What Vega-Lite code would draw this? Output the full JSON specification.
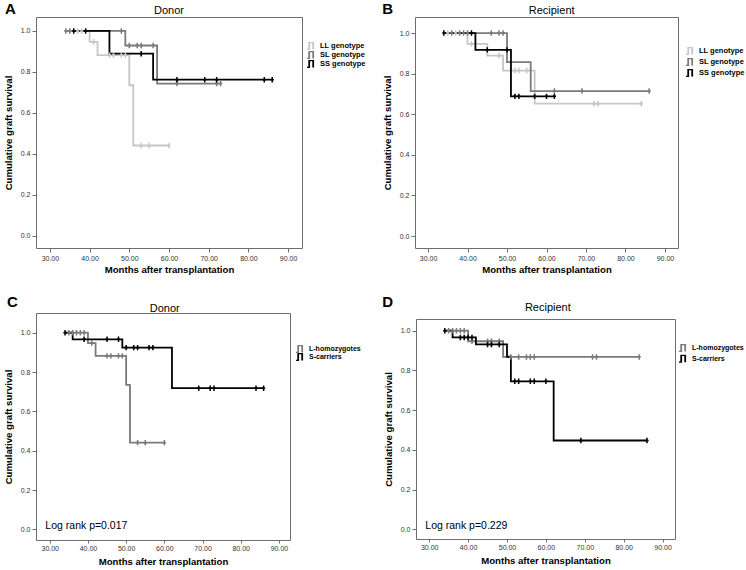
{
  "$schema": "https://vega.github.io/schema/vega-lite/v6.json",
  "padding": {"left": 2, "top": 1, "right": 0, "bottom": 0},
  "background": "white",
  "config": {
    "font": "Liberation Sans",
    "view": {"stroke": "#6e6e6e", "strokeWidth": 1},
    "axis": {"grid": false, "domain": false, "tickColor": "#6e6e6e", "tickSize": 4, "labelFontSize": 7, "labelColor": "#333333", "labelPadding": 2, "titleFontSize": 9.6, "titleFontWeight": "bold", "titleColor": "#000000"},
    "axisX": {"titlePadding": 3},
    "axisY": {"titlePadding": 7},
    "legend": {"title": null, "orient": "none", "labelFontSize": 7.5, "labelFontWeight": "bold", "labelColor": "#000000", "padding": 0, "labelOffset": 4, "symbolStrokeWidth": 1.8, "symbolSize": 64, "clipHeight": 8, "symbolType": "M-1,0.9H-0.45V-0.9H0.55V0.9"}
  },
  "columns": 2,
  "align": "none",
  "spacing": {"row": 19, "column": 14},
  "resolve": {"scale": {"color": "independent"}, "legend": {"color": "independent"}},
  "concat": [
        {
          "width": 266, "height": 231,
          "data": {"values": [
            {"g": "LL genotype", "k": "curve", "t": 37, "s": 1},
            {"g": "LL genotype", "k": "curve", "t": 40, "s": 0.947},
            {"g": "LL genotype", "k": "curve", "t": 42, "s": 0.882},
            {"g": "LL genotype", "k": "curve", "t": 50, "s": 0.735},
            {"g": "LL genotype", "k": "curve", "t": 51, "s": 0.441},
            {"g": "LL genotype", "k": "curve", "t": 60, "s": 0.441},
            {"g": "LL genotype", "k": "censor", "t": 37, "s": 1},
            {"g": "LL genotype", "k": "censor", "t": 38, "s": 1},
            {"g": "LL genotype", "k": "censor", "t": 41, "s": 0.947},
            {"g": "LL genotype", "k": "censor", "t": 45, "s": 0.882},
            {"g": "LL genotype", "k": "censor", "t": 46, "s": 0.882},
            {"g": "LL genotype", "k": "censor", "t": 48, "s": 0.882},
            {"g": "LL genotype", "k": "censor", "t": 49, "s": 0.882},
            {"g": "LL genotype", "k": "censor", "t": 53, "s": 0.441},
            {"g": "LL genotype", "k": "censor", "t": 55, "s": 0.441},
            {"g": "LL genotype", "k": "censor", "t": 60, "s": 0.441},
            {"g": "SL genotype", "k": "curve", "t": 34, "s": 1},
            {"g": "SL genotype", "k": "curve", "t": 49, "s": 0.929},
            {"g": "SL genotype", "k": "curve", "t": 57, "s": 0.743},
            {"g": "SL genotype", "k": "curve", "t": 73, "s": 0.743},
            {"g": "SL genotype", "k": "censor", "t": 34, "s": 1},
            {"g": "SL genotype", "k": "censor", "t": 35, "s": 1},
            {"g": "SL genotype", "k": "censor", "t": 48, "s": 1},
            {"g": "SL genotype", "k": "censor", "t": 50, "s": 0.929},
            {"g": "SL genotype", "k": "censor", "t": 52, "s": 0.929},
            {"g": "SL genotype", "k": "censor", "t": 53, "s": 0.929},
            {"g": "SL genotype", "k": "censor", "t": 56, "s": 0.929},
            {"g": "SL genotype", "k": "censor", "t": 62, "s": 0.743},
            {"g": "SL genotype", "k": "censor", "t": 72, "s": 0.743},
            {"g": "SL genotype", "k": "censor", "t": 73, "s": 0.743},
            {"g": "SS genotype", "k": "curve", "t": 36, "s": 1},
            {"g": "SS genotype", "k": "curve", "t": 45, "s": 0.889},
            {"g": "SS genotype", "k": "curve", "t": 56, "s": 0.762},
            {"g": "SS genotype", "k": "curve", "t": 86, "s": 0.762},
            {"g": "SS genotype", "k": "censor", "t": 36, "s": 1},
            {"g": "SS genotype", "k": "censor", "t": 39, "s": 1},
            {"g": "SS genotype", "k": "censor", "t": 53, "s": 0.889},
            {"g": "SS genotype", "k": "censor", "t": 62, "s": 0.762},
            {"g": "SS genotype", "k": "censor", "t": 69, "s": 0.762},
            {"g": "SS genotype", "k": "censor", "t": 72, "s": 0.762},
            {"g": "SS genotype", "k": "censor", "t": 84, "s": 0.762},
            {"g": "SS genotype", "k": "censor", "t": 86, "s": 0.762}
          ]},
          "layer": [
            {"transform": [{"filter": "datum.k === 'curve'"}], "mark": {"type": "line", "interpolate": "step-after", "strokeWidth": 1.8},
             "encoding": {
              "x": {"field": "t", "type": "quantitative", "scale": {"domain": [26.5, 93.5], "nice": false, "zero": false}, "axis": {"values": [30, 40, 50, 60, 70, 80, 90], "format": ".2f", "title": "Months after transplantation"}},
              "y": {"field": "s", "type": "quantitative", "scale": {"domain": [-0.059, 1.068], "nice": false, "zero": false}, "axis": {"values": [0, 0.2, 0.4, 0.6, 0.8, 1.0], "format": ".1f", "title": "Cumulative graft survival"}},
              "color": {"field": "g", "type": "nominal", "scale": {"domain": ["LL genotype", "SL genotype", "SS genotype"], "range": ["#c6c6c6", "#7a7a7a", "#000000"]}, "legend": {"legendX": 270, "legendY": 25, "rowPadding": 1}}
             }},
            {"transform": [{"filter": "datum.k === 'censor'"}], "mark": {"type": "point", "shape": "M0,-1V1M-0.6,0H0.6", "filled": false, "size": 30, "strokeWidth": 1.5, "opacity": 1},
             "encoding": {
              "x": {"field": "t", "type": "quantitative"},
              "y": {"field": "s", "type": "quantitative"},
              "color": {"field": "g", "type": "nominal"}
             }},
            {"data": {"values": [{"label": "A"}]}, "mark": {"type": "text", "align": "left", "baseline": "alphabetic", "fontSize": 15, "fontWeight": "bold", "clip": false, "fill": "#000000"},
             "encoding": {"x": {"datum": 18.7, "type": "quantitative"}, "y": {"datum": 1.083, "type": "quantitative"}, "text": {"field": "label", "type": "nominal"}}},
            {"data": {"values": [{"label": "Donor"}]}, "mark": {"type": "text", "align": "center", "baseline": "alphabetic", "fontSize": 11, "clip": false, "fill": "#000000"},
             "encoding": {"x": {"datum": 60, "type": "quantitative"}, "y": {"datum": 1.083, "type": "quantitative"}, "text": {"field": "label", "type": "nominal"}}}
          ]
        },
        {
          "width": 263, "height": 231,
          "data": {"values": [
            {"g": "LL genotype", "k": "curve", "t": 35, "s": 1},
            {"g": "LL genotype", "k": "curve", "t": 40, "s": 0.947},
            {"g": "LL genotype", "k": "curve", "t": 45, "s": 0.889},
            {"g": "LL genotype", "k": "curve", "t": 49, "s": 0.815},
            {"g": "LL genotype", "k": "curve", "t": 57, "s": 0.652},
            {"g": "LL genotype", "k": "curve", "t": 84, "s": 0.652},
            {"g": "LL genotype", "k": "censor", "t": 35, "s": 1},
            {"g": "LL genotype", "k": "censor", "t": 37, "s": 1},
            {"g": "LL genotype", "k": "censor", "t": 41, "s": 0.947},
            {"g": "LL genotype", "k": "censor", "t": 48, "s": 0.889},
            {"g": "LL genotype", "k": "censor", "t": 52, "s": 0.815},
            {"g": "LL genotype", "k": "censor", "t": 53, "s": 0.815},
            {"g": "LL genotype", "k": "censor", "t": 55, "s": 0.815},
            {"g": "LL genotype", "k": "censor", "t": 72, "s": 0.652},
            {"g": "LL genotype", "k": "censor", "t": 73, "s": 0.652},
            {"g": "LL genotype", "k": "censor", "t": 84, "s": 0.652},
            {"g": "SL genotype", "k": "curve", "t": 36, "s": 1},
            {"g": "SL genotype", "k": "curve", "t": 50, "s": 0.857},
            {"g": "SL genotype", "k": "curve", "t": 56, "s": 0.714},
            {"g": "SL genotype", "k": "curve", "t": 86, "s": 0.714},
            {"g": "SL genotype", "k": "censor", "t": 36, "s": 1},
            {"g": "SL genotype", "k": "censor", "t": 38, "s": 1},
            {"g": "SL genotype", "k": "censor", "t": 39, "s": 1},
            {"g": "SL genotype", "k": "censor", "t": 40, "s": 1},
            {"g": "SL genotype", "k": "censor", "t": 46, "s": 1},
            {"g": "SL genotype", "k": "censor", "t": 48, "s": 1},
            {"g": "SL genotype", "k": "censor", "t": 49, "s": 1},
            {"g": "SL genotype", "k": "censor", "t": 62, "s": 0.714},
            {"g": "SL genotype", "k": "censor", "t": 69, "s": 0.714},
            {"g": "SL genotype", "k": "censor", "t": 86, "s": 0.714},
            {"g": "SS genotype", "k": "curve", "t": 34, "s": 1},
            {"g": "SS genotype", "k": "curve", "t": 42, "s": 0.917},
            {"g": "SS genotype", "k": "curve", "t": 51, "s": 0.688},
            {"g": "SS genotype", "k": "curve", "t": 62, "s": 0.688},
            {"g": "SS genotype", "k": "censor", "t": 34, "s": 1},
            {"g": "SS genotype", "k": "censor", "t": 41, "s": 1},
            {"g": "SS genotype", "k": "censor", "t": 45, "s": 0.917},
            {"g": "SS genotype", "k": "censor", "t": 50, "s": 0.917},
            {"g": "SS genotype", "k": "censor", "t": 52, "s": 0.688},
            {"g": "SS genotype", "k": "censor", "t": 53, "s": 0.688},
            {"g": "SS genotype", "k": "censor", "t": 57, "s": 0.688},
            {"g": "SS genotype", "k": "censor", "t": 60, "s": 0.688},
            {"g": "SS genotype", "k": "censor", "t": 62, "s": 0.688}
          ]},
          "layer": [
            {"transform": [{"filter": "datum.k === 'curve'"}], "mark": {"type": "line", "interpolate": "step-after", "strokeWidth": 1.8},
             "encoding": {
              "x": {"field": "t", "type": "quantitative", "scale": {"domain": [26.7, 93.3], "nice": false, "zero": false}, "axis": {"values": [30, 40, 50, 60, 70, 80, 90], "format": ".2f", "title": "Months after transplantation"}},
              "y": {"field": "s", "type": "quantitative", "scale": {"domain": [-0.059, 1.079], "nice": false, "zero": false}, "axis": {"values": [0, 0.2, 0.4, 0.6, 0.8, 1.0], "format": ".1f", "title": "Cumulative graft survival"}},
              "color": {"field": "g", "type": "nominal", "scale": {"domain": ["LL genotype", "SL genotype", "SS genotype"], "range": ["#c6c6c6", "#7a7a7a", "#000000"]}, "legend": {"legendX": 270, "legendY": 30, "rowPadding": 3}}
             }},
            {"transform": [{"filter": "datum.k === 'censor'"}], "mark": {"type": "point", "shape": "M0,-1V1M-0.6,0H0.6", "filled": false, "size": 30, "strokeWidth": 1.5, "opacity": 1},
             "encoding": {
              "x": {"field": "t", "type": "quantitative"},
              "y": {"field": "s", "type": "quantitative"},
              "color": {"field": "g", "type": "nominal"}
             }},
            {"data": {"values": [{"label": "B"}]}, "mark": {"type": "text", "align": "left", "baseline": "alphabetic", "fontSize": 15, "fontWeight": "bold", "clip": false, "fill": "#000000"},
             "encoding": {"x": {"datum": 18.4, "type": "quantitative"}, "y": {"datum": 1.092, "type": "quantitative"}, "text": {"field": "label", "type": "nominal"}}},
            {"data": {"values": [{"label": "Recipient"}]}, "mark": {"type": "text", "align": "center", "baseline": "alphabetic", "fontSize": 11, "clip": false, "fill": "#000000"},
             "encoding": {"x": {"datum": 61.3, "type": "quantitative"}, "y": {"datum": 1.092, "type": "quantitative"}, "text": {"field": "label", "type": "nominal"}}}
          ]
        },
        {
          "width": 254, "height": 227,
          "data": {"values": [
            {"g": "L-homozygotes", "k": "curve", "t": 34, "s": 1},
            {"g": "L-homozygotes", "k": "curve", "t": 40, "s": 0.947},
            {"g": "L-homozygotes", "k": "curve", "t": 42, "s": 0.882},
            {"g": "L-homozygotes", "k": "curve", "t": 50, "s": 0.735},
            {"g": "L-homozygotes", "k": "curve", "t": 51, "s": 0.441},
            {"g": "L-homozygotes", "k": "curve", "t": 60, "s": 0.441},
            {"g": "L-homozygotes", "k": "censor", "t": 35, "s": 1},
            {"g": "L-homozygotes", "k": "censor", "t": 36, "s": 1},
            {"g": "L-homozygotes", "k": "censor", "t": 37, "s": 1},
            {"g": "L-homozygotes", "k": "censor", "t": 38, "s": 1},
            {"g": "L-homozygotes", "k": "censor", "t": 39, "s": 1},
            {"g": "L-homozygotes", "k": "censor", "t": 41, "s": 0.947},
            {"g": "L-homozygotes", "k": "censor", "t": 45, "s": 0.882},
            {"g": "L-homozygotes", "k": "censor", "t": 46, "s": 0.882},
            {"g": "L-homozygotes", "k": "censor", "t": 48, "s": 0.882},
            {"g": "L-homozygotes", "k": "censor", "t": 49, "s": 0.882},
            {"g": "L-homozygotes", "k": "censor", "t": 53, "s": 0.441},
            {"g": "L-homozygotes", "k": "censor", "t": 55, "s": 0.441},
            {"g": "L-homozygotes", "k": "censor", "t": 60, "s": 0.441},
            {"g": "S-carriers", "k": "curve", "t": 34, "s": 1},
            {"g": "S-carriers", "k": "curve", "t": 36, "s": 0.966},
            {"g": "S-carriers", "k": "curve", "t": 49, "s": 0.924},
            {"g": "S-carriers", "k": "curve", "t": 62, "s": 0.718},
            {"g": "S-carriers", "k": "curve", "t": 86, "s": 0.718},
            {"g": "S-carriers", "k": "censor", "t": 34, "s": 1},
            {"g": "S-carriers", "k": "censor", "t": 39, "s": 0.966},
            {"g": "S-carriers", "k": "censor", "t": 45, "s": 0.966},
            {"g": "S-carriers", "k": "censor", "t": 48, "s": 0.966},
            {"g": "S-carriers", "k": "censor", "t": 50, "s": 0.924},
            {"g": "S-carriers", "k": "censor", "t": 52, "s": 0.924},
            {"g": "S-carriers", "k": "censor", "t": 53, "s": 0.924},
            {"g": "S-carriers", "k": "censor", "t": 56, "s": 0.924},
            {"g": "S-carriers", "k": "censor", "t": 57, "s": 0.924},
            {"g": "S-carriers", "k": "censor", "t": 69, "s": 0.718},
            {"g": "S-carriers", "k": "censor", "t": 72, "s": 0.718},
            {"g": "S-carriers", "k": "censor", "t": 73, "s": 0.718},
            {"g": "S-carriers", "k": "censor", "t": 84, "s": 0.718},
            {"g": "S-carriers", "k": "censor", "t": 86, "s": 0.718}
          ]},
          "layer": [
            {"transform": [{"filter": "datum.k === 'curve'"}], "mark": {"type": "line", "interpolate": "step-after", "strokeWidth": 1.8},
             "encoding": {
              "x": {"field": "t", "type": "quantitative", "scale": {"domain": [26.4, 92.9], "nice": false, "zero": false}, "axis": {"values": [30, 40, 50, 60, 70, 80, 90], "format": ".2f", "title": "Months after transplantation", "tickSize": 3, "labelPadding": 1, "titlePadding": 5}},
              "y": {"field": "s", "type": "quantitative", "scale": {"domain": [-0.054, 1.1], "nice": false, "zero": false}, "axis": {"values": [0, 0.2, 0.4, 0.6, 0.8, 1.0], "format": ".1f", "title": "Cumulative graft survival"}},
              "color": {"field": "g", "type": "nominal", "scale": {"domain": ["L-homozygotes", "S-carriers"], "range": ["#7a7a7a", "#000000"]}, "legend": {"legendX": 259, "legendY": 32, "rowPadding": 0, "labelFontSize": 7}}
             }},
            {"transform": [{"filter": "datum.k === 'censor'"}], "mark": {"type": "point", "shape": "M0,-1V1M-0.6,0H0.6", "filled": false, "size": 30, "strokeWidth": 1.5, "opacity": 1},
             "encoding": {
              "x": {"field": "t", "type": "quantitative"},
              "y": {"field": "s", "type": "quantitative"},
              "color": {"field": "g", "type": "nominal"}
             }},
            {"data": {"values": [{"label": "C"}]}, "mark": {"type": "text", "align": "left", "baseline": "alphabetic", "fontSize": 15, "fontWeight": "bold", "clip": false, "fill": "#000000"},
             "encoding": {"x": {"datum": 18.8, "type": "quantitative"}, "y": {"datum": 1.132, "type": "quantitative"}, "text": {"field": "label", "type": "nominal"}}},
            {"data": {"values": [{"label": "Donor"}]}, "mark": {"type": "text", "align": "center", "baseline": "alphabetic", "fontSize": 11, "clip": false, "fill": "#000000"},
             "encoding": {"x": {"datum": 60.1, "type": "quantitative"}, "y": {"datum": 1.104, "type": "quantitative"}, "text": {"field": "label", "type": "nominal"}}},
            {"data": {"values": [{"label": "Log rank p=0.017"}]}, "mark": {"type": "text", "align": "left", "baseline": "alphabetic", "fontSize": 10.5, "fill": "#000000"},
             "encoding": {"x": {"datum": 28.85, "type": "quantitative"}, "y": {"datum": 0, "type": "quantitative"}, "text": {"field": "label", "type": "nominal"}}}
          ]
        },
        {
          "width": 259, "height": 220,
          "data": {"values": [
            {"g": "L-homozygotes", "k": "curve", "t": 34, "s": 1},
            {"g": "L-homozygotes", "k": "curve", "t": 40, "s": 0.947},
            {"g": "L-homozygotes", "k": "curve", "t": 49, "s": 0.868},
            {"g": "L-homozygotes", "k": "curve", "t": 84, "s": 0.868},
            {"g": "L-homozygotes", "k": "censor", "t": 35, "s": 1},
            {"g": "L-homozygotes", "k": "censor", "t": 36, "s": 1},
            {"g": "L-homozygotes", "k": "censor", "t": 37, "s": 1},
            {"g": "L-homozygotes", "k": "censor", "t": 38, "s": 1},
            {"g": "L-homozygotes", "k": "censor", "t": 39, "s": 1},
            {"g": "L-homozygotes", "k": "censor", "t": 41, "s": 0.947},
            {"g": "L-homozygotes", "k": "censor", "t": 45, "s": 0.947},
            {"g": "L-homozygotes", "k": "censor", "t": 46, "s": 0.947},
            {"g": "L-homozygotes", "k": "censor", "t": 48, "s": 0.947},
            {"g": "L-homozygotes", "k": "censor", "t": 51, "s": 0.868},
            {"g": "L-homozygotes", "k": "censor", "t": 53, "s": 0.868},
            {"g": "L-homozygotes", "k": "censor", "t": 55, "s": 0.868},
            {"g": "L-homozygotes", "k": "censor", "t": 56, "s": 0.868},
            {"g": "L-homozygotes", "k": "censor", "t": 57, "s": 0.868},
            {"g": "L-homozygotes", "k": "censor", "t": 72, "s": 0.868},
            {"g": "L-homozygotes", "k": "censor", "t": 73, "s": 0.868},
            {"g": "L-homozygotes", "k": "censor", "t": 84, "s": 0.868},
            {"g": "S-carriers", "k": "curve", "t": 34, "s": 1},
            {"g": "S-carriers", "k": "curve", "t": 36, "s": 0.966},
            {"g": "S-carriers", "k": "curve", "t": 42, "s": 0.931},
            {"g": "S-carriers", "k": "curve", "t": 50, "s": 0.869},
            {"g": "S-carriers", "k": "curve", "t": 51, "s": 0.745},
            {"g": "S-carriers", "k": "curve", "t": 62, "s": 0.447},
            {"g": "S-carriers", "k": "curve", "t": 86, "s": 0.447},
            {"g": "S-carriers", "k": "censor", "t": 34, "s": 1},
            {"g": "S-carriers", "k": "censor", "t": 38, "s": 0.966},
            {"g": "S-carriers", "k": "censor", "t": 39, "s": 0.966},
            {"g": "S-carriers", "k": "censor", "t": 40, "s": 0.966},
            {"g": "S-carriers", "k": "censor", "t": 41, "s": 0.966},
            {"g": "S-carriers", "k": "censor", "t": 45, "s": 0.931},
            {"g": "S-carriers", "k": "censor", "t": 46, "s": 0.931},
            {"g": "S-carriers", "k": "censor", "t": 48, "s": 0.931},
            {"g": "S-carriers", "k": "censor", "t": 52, "s": 0.745},
            {"g": "S-carriers", "k": "censor", "t": 53, "s": 0.745},
            {"g": "S-carriers", "k": "censor", "t": 56, "s": 0.745},
            {"g": "S-carriers", "k": "censor", "t": 57, "s": 0.745},
            {"g": "S-carriers", "k": "censor", "t": 60, "s": 0.745},
            {"g": "S-carriers", "k": "censor", "t": 69, "s": 0.447},
            {"g": "S-carriers", "k": "censor", "t": 86, "s": 0.447}
          ]},
          "layer": [
            {"transform": [{"filter": "datum.k === 'curve'"}], "mark": {"type": "line", "interpolate": "step-after", "strokeWidth": 1.8},
             "encoding": {
              "x": {"field": "t", "type": "quantitative", "scale": {"domain": [26.6, 93.2], "nice": false, "zero": false}, "axis": {"values": [30, 40, 50, 60, 70, 80, 90], "format": ".2f", "title": "Months after transplantation", "tickSize": 3, "labelPadding": 1, "titlePadding": 5}},
              "y": {"field": "s", "type": "quantitative", "scale": {"domain": [-0.049, 1.059], "nice": false, "zero": false}, "axis": {"values": [0, 0.2, 0.4, 0.6, 0.8, 1.0], "format": ".1f", "title": "Cumulative graft survival"}},
              "color": {"field": "g", "type": "nominal", "scale": {"domain": ["L-homozygotes", "S-carriers"], "range": ["#7a7a7a", "#000000"]}, "legend": {"legendX": 262, "legendY": 25, "rowPadding": 2.7, "labelFontSize": 7}}
             }},
            {"transform": [{"filter": "datum.k === 'censor'"}], "mark": {"type": "point", "shape": "M0,-1V1M-0.6,0H0.6", "filled": false, "size": 30, "strokeWidth": 1.5, "opacity": 1},
             "encoding": {
              "x": {"field": "t", "type": "quantitative"},
              "y": {"field": "s", "type": "quantitative"},
              "color": {"field": "g", "type": "nominal"}
             }},
            {"data": {"values": [{"label": "D"}]}, "mark": {"type": "text", "align": "left", "baseline": "alphabetic", "fontSize": 15, "fontWeight": "bold", "clip": false, "fill": "#000000"},
             "encoding": {"x": {"datum": 17.9, "type": "quantitative"}, "y": {"datum": 1.121, "type": "quantitative"}, "text": {"field": "label", "type": "nominal"}}},
            {"data": {"values": [{"label": "Recipient"}]}, "mark": {"type": "text", "align": "center", "baseline": "alphabetic", "fontSize": 11, "clip": false, "fill": "#000000"},
             "encoding": {"x": {"datum": 60.5, "type": "quantitative"}, "y": {"datum": 1.099, "type": "quantitative"}, "text": {"field": "label", "type": "nominal"}}},
            {"data": {"values": [{"label": "Log rank p=0.229"}]}, "mark": {"type": "text", "align": "left", "baseline": "alphabetic", "fontSize": 10.5, "fill": "#000000"},
             "encoding": {"x": {"datum": 29.0, "type": "quantitative"}, "y": {"datum": 0, "type": "quantitative"}, "text": {"field": "label", "type": "nominal"}}}
          ]
        }
  ]
}
